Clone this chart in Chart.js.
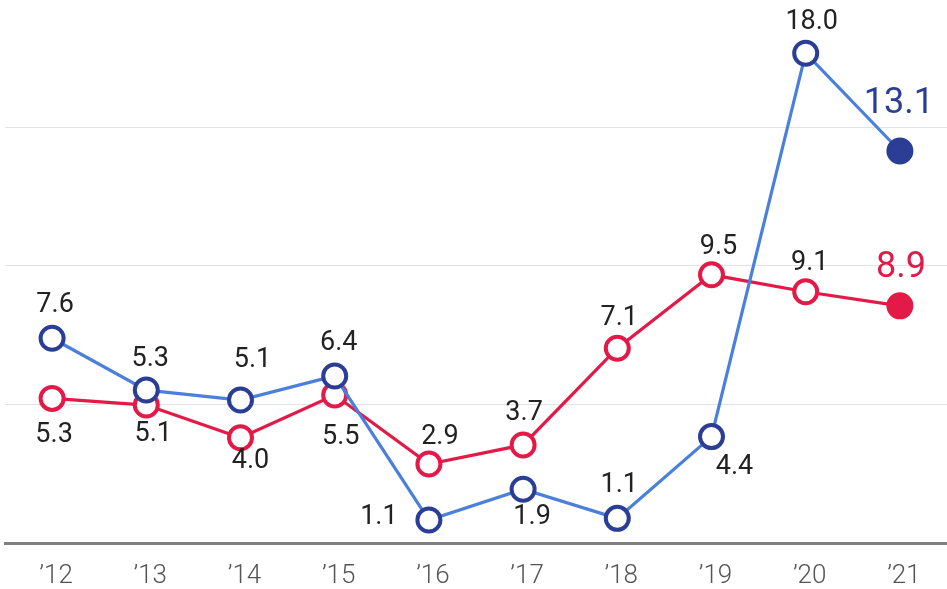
<!DOCTYPE html>
<html>
<head>
<meta charset="utf-8">
<script src="https://cdn.jsdelivr.net/npm/chart.js@4/dist/chart.umd.min.js"></script>
<style>
html,body{margin:0;padding:0;background:#fff;}
#wrap{width:947px;height:589px;position:relative;}
</style>
</head>
<body>
<div id="wrap"><canvas id="c" width="947" height="589"></canvas></div>
<script>
// Categories (years)
const years = ["’12","’13","’14","’15","’16","’17","’18","’19","’20","’21"];
const blueValues = [7.39, 5.52, 5.16, 6.03, 0.83, 1.94, 0.89, 3.84, 17.68, 14.15];
const redValues  = [5.22, 4.98, 3.80, 5.34, 2.85, 3.54, 7.03, 9.68, 9.07, 8.56];
// Value labels as printed on the chart
const blueLabels = ["7.6","5.3","5.1","6.4","1.1","1.9","1.1","4.4","18.0","13.1"];
const redLabels  = ["5.3","5.1","4.0","5.5","2.9","3.7","7.1","9.5","9.1","8.9"];

// Label placement offsets relative to the marker (styling, not data)
const bluePlace = [[3,-33],[4,-31],[12,-40],[4,-33],[-50,-3],[9,28],[2,-33],[23,31],[6,-31],[-1,-47]];
const redPlace  = [[2,37],[7,29],[10,24],[6,42],[11,-27],[1,-32],[2,-30],[7,-28],[4,-28],[1,-38]];

const NAVY = '#2a3e96';
const LBLUE = '#4a7fdb';
const RED = '#e31a47';
const last = years.length - 1;

const labelPlugin = {
  id: 'valueLabels',
  afterDatasetsDraw(chart) {
    const ctx = chart.ctx;
    const sets = [
      {meta: chart.getDatasetMeta(0), labels: blueLabels, place: bluePlace, color: NAVY},
      {meta: chart.getDatasetMeta(1), labels: redLabels, place: redPlace, color: RED}
    ];
    ctx.save();
    ctx.textAlign = 'center';
    ctx.textBaseline = 'middle';
    sets.forEach(s => {
      s.meta.data.forEach((pt, i) => {
        const big = i === last;
        ctx.font = big ? '400 36px Roboto' : '400 27px Roboto';
        ctx.fillStyle = big ? s.color : '#222222';
        ctx.fillText(s.labels[i], pt.x + s.place[i][0], pt.y + s.place[i][1]);
      });
    });
    ctx.restore();
  }
};

const pointStyleFor = (color) => ({
  pointBackgroundColor: years.map((_, i) => i === last ? color : '#ffffff'),
  pointBorderColor: color,
  pointRadius: years.map((_, i) => i === last ? 12 : 11.5),
  pointBorderWidth: years.map((_, i) => i === last ? 3 : 4),
});

new Chart(document.getElementById('c'), {
  type: 'line',
  data: {
    labels: years,
    datasets: [
      Object.assign({
        data: blueValues,
        borderColor: LBLUE,
        borderWidth: 3.2,
        tension: 0,
      }, pointStyleFor(NAVY)),
      Object.assign({
        data: redValues,
        borderColor: RED,
        borderWidth: 3.2,
        tension: 0,
      }, pointStyleFor(RED))
    ]
  },
  options: {
    responsive: false,
    animation: false,
    events: [],
    layout: {padding: {left: 5, right: 0, top: 0, bottom: 0}, autoPadding: false},
    plugins: {legend: {display: false}, tooltip: {enabled: false}},
    scales: {
      x: {
        offset: true,
        grid: {display: true, color: 'rgba(0,0,0,0)', drawTicks: false},
        border: {display: true, color: '#808080', width: 3},
        ticks: {color: '#555555', font: {family: 'Roboto', size: 26, weight: '300'}, padding: 18, labelOffset: 4, maxRotation: 0, autoSkip: false},
        afterFit(scale) { scale.height = 46; }
      },
      y: {
        min: 0,
        max: 19.6,
        ticks: {display: false, stepSize: 5},
        border: {display: false},
        grid: {drawTicks: false, lineWidth: 1, color: (c) => (c.tick && (c.tick.value % 5 === 0) && c.tick.value > 0) ? '#e3e3e3' : 'rgba(0,0,0,0)'},
        afterFit(scale) { scale.width = 0; }
      }
    }
  },
  plugins: [labelPlugin]
});
</script>
</body>
</html>
